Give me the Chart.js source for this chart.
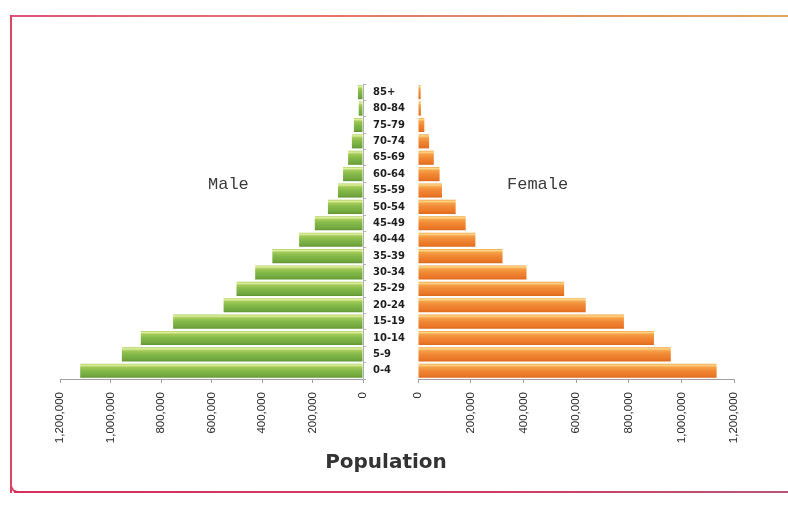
<!DOCTYPE html>
<html>
<head>
<meta charset="utf-8">
<script src="https://cdn.jsdelivr.net/npm/chart.js@4/dist/chart.umd.min.js"></script>
<style>
  html, body { margin: 0; padding: 0; background: #fff; }
  #page { position: relative; width: 788px; height: 510px; overflow: hidden; background: #fff; }
  #maleCanvas { position: absolute; left: 0; top: 0; }
  #femaleCanvas { position: absolute; left: 363px; top: 0; }
  .frame-top { position: absolute; left: 10px; top: 15px; width: 778px; height: 2px;
    background: linear-gradient(to right, #e0547a, #e47a6c 45%, #dfa55a 100%); }
  .frame-left { position: absolute; left: 10px; top: 15px; width: 2px; height: 478px; background: #dc4262; }
  .frame-bottom { position: absolute; left: 14px; top: 491px; width: 774px; height: 2px;
    background: linear-gradient(to right, #d8305c, #d23a62 60%, #b65676 100%); }
  .frame-corner { position: absolute; left: 10px; top: 483px; width: 10px; height: 10px;
    border-left: 2px solid #dc4262; border-bottom: 2px solid #d8305c; border-bottom-left-radius: 8px; box-sizing: border-box; }
  .side { position: absolute; font-family: "Liberation Mono", monospace; font-size: 17px; line-height: 17px; color: #3a3a3a; }
  #title { position: absolute; left: 0; width: 772px; top: 451px; text-align: center;
    font-family: "DejaVu Sans", sans-serif; font-weight: 600; font-size: 20px; line-height: 20px; color: #333; }
</style>
</head>
<body>
<div id="page">
  <div class="frame-top"></div>
  <div class="frame-left"></div>
  <div class="frame-bottom"></div>
  <div class="frame-corner"></div>
  <canvas id="maleCanvas" width="390" height="510"></canvas>
  <canvas id="femaleCanvas" width="425" height="510"></canvas>
  <div class="side" style="left:208px; top:176px;">Male</div>
  <div class="side" style="left:507px; top:176px;">Female</div>
  <div id="title">Population</div>
</div>
<script>
// Age groups, youngest first (drawn bottom-up)
const ageGroups = ['0-4', '5-9', '10-14', '15-19', '20-24', '25-29', '30-34', '35-39', '40-44',
                   '45-49', '50-54', '55-59', '60-64', '65-69', '70-74', '75-79', '80-84', '85+'];

const maleValues = [1120000, 955000, 880000, 752000, 552000, 501000, 427000, 359000, 253000,
                    191000, 139000, 99000, 79000, 59000, 44000, 36000, 17000, 20000];

const femaleValues = [1134000, 960000, 896000, 782000, 637000, 555000, 412000, 321000, 218000,
                      181000, 143000, 91000, 82000, 60000, 42000, 24000, 11000, 10000];

// Population axis ticks
const axisMax = 1200000;
const axisStep = 200000;

const BAR_PCT = 0.86;

const greenStops = [[0, '#a8cf5c'], [0.1, '#e2efa0'], [0.24, '#a2ca58'], [0.5, '#84b94a'], [0.85, '#72a73e'], [1, '#5f9533']];
const orangeStops = [[0, '#f3a040'], [0.1, '#fdd789'], [0.24, '#f6a048'], [0.5, '#f08834'], [0.85, '#ea7626'], [1, '#db6a1e']];

// Vertical shaded fill per bar, positioned from the category scale
function barFill(stops) {
  return (c) => {
    const chart = c.chart;
    const ys = chart.scales && chart.scales.y;
    if (c.type !== 'data' || !ys || ys.bottom === undefined) return stops[3][1];
    const band = (ys.bottom - ys.top) / ageGroups.length;
    const h = band * BAR_PCT;
    const yc = ys.getPixelForValue(c.dataIndex);
    const g = chart.ctx.createLinearGradient(0, yc - h / 2, 0, yc + h / 2);
    stops.forEach(([o, col]) => g.addColorStop(o, col));
    return g;
  };
}

const tickFont = { family: '"Liberation Sans", Arial, sans-serif', size: 11.5 };

function populationAxis(reversed) {
  return {
    min: 0,
    max: axisMax,
    reverse: reversed,
    ticks: {
      stepSize: axisStep,
      minRotation: 90,
      maxRotation: 90,
      autoSkip: false,
      padding: 9,
      color: '#2a2a2a',
      font: tickFont,
      callback: (v) => Number(v).toLocaleString('en-US')
    },
    grid: { drawOnChartArea: false, drawTicks: true, tickLength: 4, color: '#a0a0a0' },
    border: { color: '#a0a0a0' },
    afterFit: (s) => { s.height = 131; s.paddingLeft = 0; s.paddingRight = 0; }
  };
}

const common = {
  indexAxis: 'y',
  responsive: false,
  animation: false,
  devicePixelRatio: 1,
  plugins: { legend: { display: false }, tooltip: { enabled: false } }
};

new Chart(document.getElementById('maleCanvas'), {
  type: 'bar',
  data: {
    labels: ageGroups,
    datasets: [{
      label: 'Male',
      data: maleValues,
      backgroundColor: barFill(greenStops),
      borderWidth: 0,
      barPercentage: BAR_PCT,
      categoryPercentage: 1
    }]
  },
  options: {
    ...common,
    layout: { padding: { left: 60, top: 84, right: 0, bottom: 0 } },
    scales: {
      x: populationAxis(true),
      y: {
        position: 'right',
        reverse: true,
        ticks: { display: false },
        grid: { drawOnChartArea: false, drawTicks: true, tickLength: 3, color: '#b0b0b0' },
        border: { color: '#b0b0b0' },
        afterFit: (s) => { s.width = 27; s.paddingTop = 0; s.paddingBottom = 0; }
      }
    }
  }
});

new Chart(document.getElementById('femaleCanvas'), {
  type: 'bar',
  data: {
    labels: ageGroups,
    datasets: [{
      label: 'Female',
      data: femaleValues,
      backgroundColor: barFill(orangeStops),
      borderWidth: 0,
      barPercentage: BAR_PCT,
      categoryPercentage: 1
    }]
  },
  options: {
    ...common,
    layout: { padding: { left: 10, top: 84, right: 54, bottom: 0 } },
    scales: {
      x: populationAxis(false),
      y: {
        position: 'left',
        reverse: true,
        ticks: {
          crossAlign: 'far',
          color: '#1e1e1e',
          font: { family: '"DejaVu Sans", sans-serif', size: 10, weight: 'bold' }
        },
        grid: { drawOnChartArea: false, drawTicks: false },
        border: { display: false },
        afterFit: (s) => { s.width = 45; s.paddingTop = 0; s.paddingBottom = 0; }
      }
    }
  }
});
</script>
</body>
</html>
